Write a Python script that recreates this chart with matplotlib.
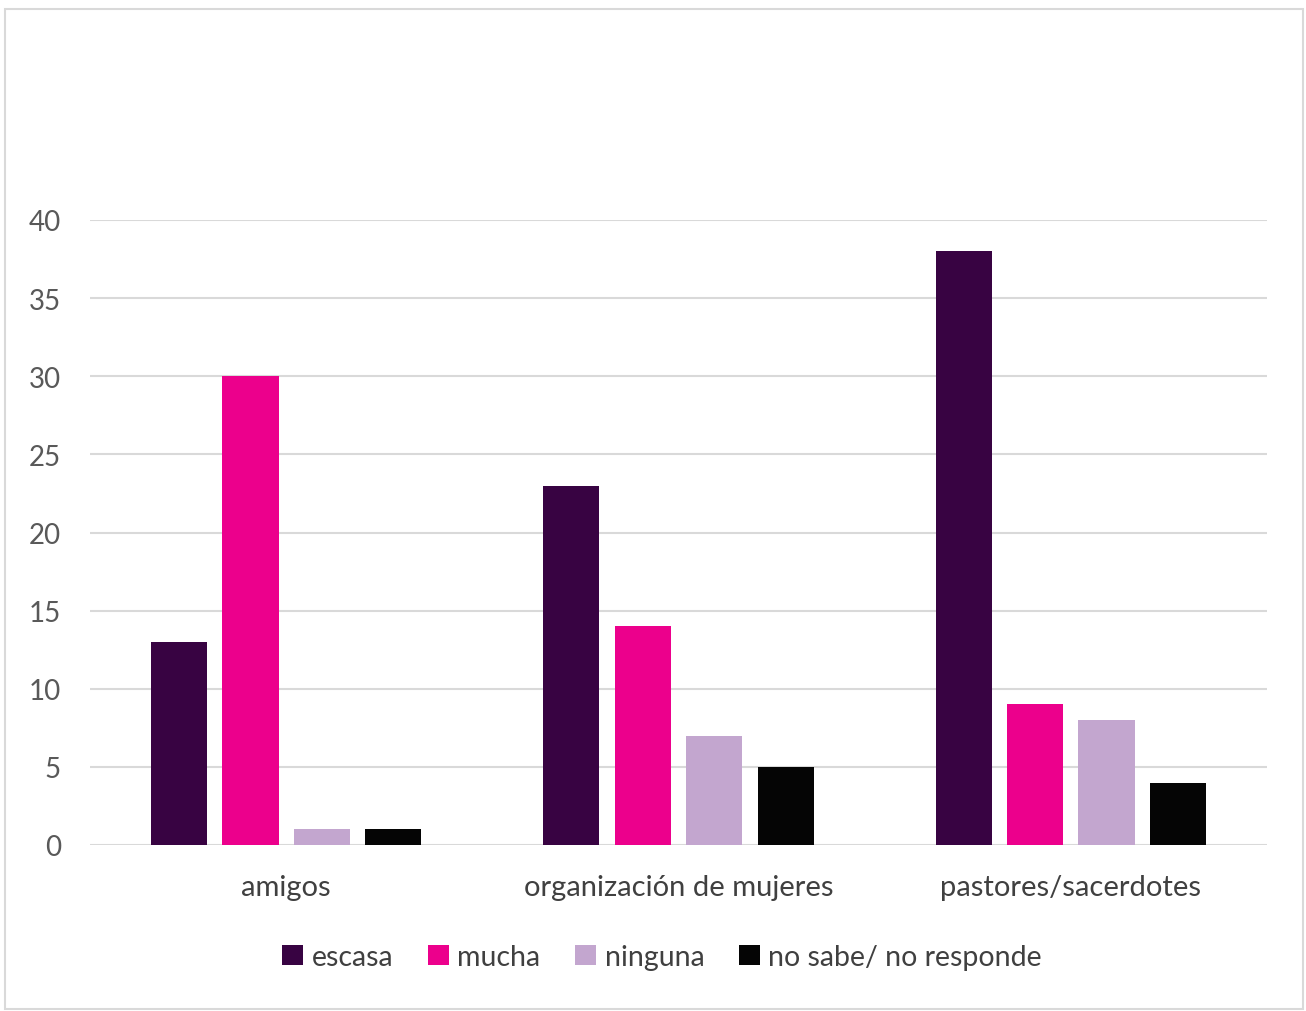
import matplotlib
matplotlib.use("Agg")
import matplotlib.pyplot as plt
import numpy as np
from matplotlib.patches import Rectangle

categories = ["amigos", "organización de mujeres", "pastores/sacerdotes"]
series_names = ["escasa", "mucha", "ninguna", "no sabe/ no responde"]
escasa = [13, 23, 38]
mucha = [30, 14, 9]
ninguna = [1, 7, 8]
no_sabe = [1, 5, 4]
yticks = [0, 5, 10, 15, 20, 25, 30, 35, 40]

values = [escasa, mucha, ninguna, no_sabe]
colors = ["#380342", "#EC008C", "#C3A6CF", "#050505"]

plt.rcParams['font.family'] = ['Lato', 'DejaVu Sans']

fig = plt.figure(figsize=(13.06, 10.12), dpi=100)
ax = fig.add_axes([90/1306, 1-846/1012, (1267-90)/1306, (846-221)/1012])

x = np.arange(len(categories))
width = 0.143
step = 0.182
for i, (name, vals, c) in enumerate(zip(series_names, values, colors)):
    ax.bar(x + (i - 1.5) * step, vals, width, color=c, label=name, zorder=3)

ax.set_xlim(-0.5, 2.5)
ax.set_ylim(0, 40)
ax.set_yticks(yticks)
ax.set_yticklabels([str(t) for t in yticks], fontsize=20, color="#595959")
ax.set_xticks(x)
ax.set_xticklabels(categories, fontsize=21, color="#404040")
ax.tick_params(axis='both', length=0)
ax.tick_params(axis='y', pad=21)
ax.tick_params(axis='x', pad=21)
ax.grid(axis='y', color="#D9D9D9", linewidth=1.5, zorder=0)
for s in ax.spines.values():
    s.set_visible(False)

leg = fig.legend(loc='center', bbox_to_anchor=(662/1306, 1-958/1012), ncol=4,
                 frameon=False, fontsize=20.5, handlelength=0.75, handleheight=0.75,
                 handletextpad=0.3, columnspacing=1.2)
for t in leg.get_texts():
    t.set_color("#404040")

fig.patches.append(Rectangle((5/1306, 2/1012), 1298/1306, 1000/1012,
                             transform=fig.transFigure, fill=False,
                             edgecolor="#D9D9D9", linewidth=1.5))

fig.savefig("out.png", dpi=100)
